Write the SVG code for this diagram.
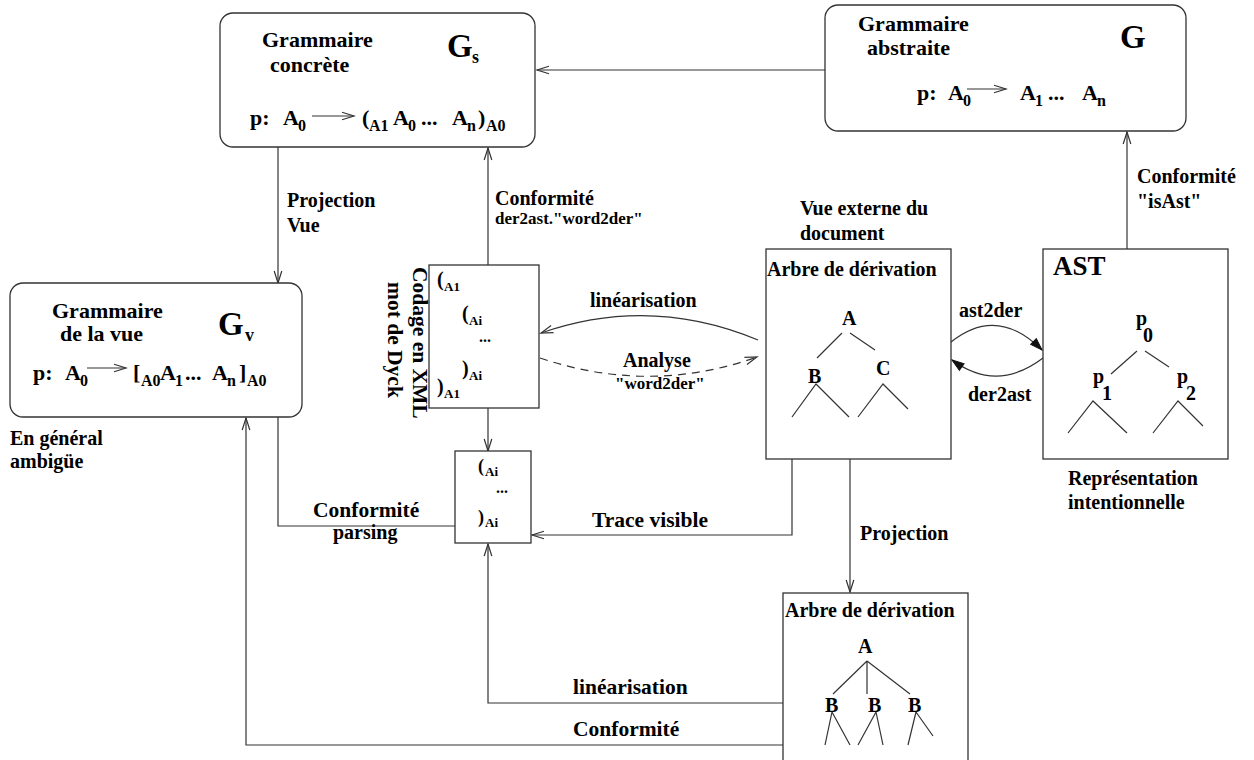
<svg xmlns="http://www.w3.org/2000/svg" width="1254" height="760" viewBox="0 0 1254 760">
  <style>
    text { font-family: "Liberation Serif", "Times New Roman", serif; font-weight: bold; fill: #000; }
    .lbl { font-size: 20px; }
    .lg { font-size: 21.5px; }
    .ttl { font-size: 22px; }
    .sm { font-size: 17px; }
    .big { font-size: 33px; }
    .bs { font-size: 18px; }
    .prod { font-size: 22px; }
    .sub { font-size: 16px; }
    .tree { font-size: 20px; }
    .xsub { font-size: 13px; }
    .box { fill: #fff; stroke: #333; stroke-width: 1.3; }
    .ln { fill: none; stroke: #333; stroke-width: 1.2; }
    .arr { marker-end: url(#open); }
    .fil { marker-end: url(#solid); }
    .dash { stroke-dasharray: 8 6; }
  </style>
  <defs>
    <marker id="open" markerUnits="userSpaceOnUse" markerWidth="16" markerHeight="12" viewBox="-14 -6 16 12" refX="0" refY="0" orient="auto">
      <path d="M-12,-3.8 L0,0 L-12,3.8" fill="none" stroke="#333" stroke-width="1.2"/>
    </marker>
    <marker id="solid" markerUnits="userSpaceOnUse" markerWidth="16" markerHeight="12" viewBox="-14 -6 16 12" refX="0" refY="0" orient="auto">
      <path d="M-12,-4 L0,0 L-12,4 Z" fill="#111" stroke="#111" stroke-width="1"/>
    </marker>
  </defs>

  <rect width="1254" height="760" fill="#fff"/>

  <!-- connectors -->
  <g id="connectors">
    <path class="ln arr" d="M825,70 H537"/>
    <path class="ln arr" d="M278,147 V283"/>
    <path class="ln arr" d="M488,265 V148"/>
    <path class="ln arr" d="M488,408 V451"/>
    <path class="ln arr" d="M758,340 Q650,295 541,333"/>
    <path class="ln arr dash" d="M540,358 Q650,395 757,357"/>
    <path class="ln fil" d="M951,342 Q997,305 1042,350"/>
    <path class="ln fil" d="M1043,358 Q997,393 952,360"/>
    <path class="ln arr" d="M1127,249 V132"/>
    <path class="ln arr" d="M792,459 V535 H532"/>
    <path class="ln arr" d="M850,459 V592"/>
    <path class="ln arr" d="M783,703 H488 V544"/>
    <path class="ln arr" d="M783,745 H246 V418"/>
    <path class="ln" d="M455,526 H278 V417"/>
  </g>

  <!-- concrete grammar -->
  <g id="gs">
    <rect class="box" x="220" y="13" width="315" height="134" rx="13"/>
    <text class="ttl" x="262" y="47">Grammaire</text>
    <text class="ttl" x="270" y="72">concrète</text>
    <text class="big" x="447" y="57">G</text>
    <text class="bs" x="472" y="63">s</text>
    <text class="prod" x="250" y="125">p:</text>
    <text class="prod" x="283" y="125">A</text><text class="sub" x="298" y="131">0</text>
    <path class="ln arr" d="M312,116 H354"/>
    <text class="prod" x="362" y="125">(</text><text class="sub" x="369" y="131">A1</text>
    <text class="prod" x="393" y="125">A</text><text class="sub" x="408" y="131">0</text>
    <text class="prod" x="421" y="125">...</text>
    <text class="prod" x="452" y="125">A</text><text class="sub" x="467" y="131">n</text>
    <text class="prod" x="478" y="125">)</text><text class="sub" x="486" y="131">A0</text>
  </g>

  <!-- abstract grammar -->
  <g id="g">
    <rect class="box" x="825" y="5" width="361" height="126" rx="13"/>
    <text class="ttl" x="858" y="31">Grammaire</text>
    <text class="ttl" x="867" y="55">abstraite</text>
    <text class="big" x="1120" y="48">G</text>
    <text class="prod" x="917" y="100">p:</text>
    <text class="prod" x="948" y="100">A</text><text class="sub" x="963" y="106">0</text>
    <path class="ln arr" d="M967,89 H1006"/>
    <text class="prod" x="1020" y="100">A</text><text class="sub" x="1035" y="106">1</text>
    <text class="prod" x="1048" y="100">...</text>
    <text class="prod" x="1082" y="100">A</text><text class="sub" x="1097" y="106">n</text>
  </g>

  <!-- view grammar -->
  <g id="gv">
    <rect class="box" x="10" y="283" width="292" height="134" rx="13"/>
    <text class="ttl" x="52" y="318">Grammaire</text>
    <text class="ttl" x="60" y="341">de la vue</text>
    <text class="big" x="218" y="335">G</text>
    <text class="bs" x="245" y="341">v</text>
    <text class="prod" x="33" y="380">p:</text>
    <text class="prod" x="65" y="380">A</text><text class="sub" x="80" y="386">0</text>
    <path class="ln arr" d="M87,368 H126"/>
    <text class="prod" x="133" y="380">[</text><text class="sub" x="141" y="386">A0</text>
    <text class="prod" x="160" y="380">A</text><text class="sub" x="175" y="386">1</text>
    <text class="prod" x="185" y="380">...</text>
    <text class="prod" x="212" y="380">A</text><text class="sub" x="227" y="386">n</text>
    <text class="prod" x="239" y="380">]</text><text class="sub" x="247" y="386">A0</text>
  </g>
  <text class="lbl" x="10" y="445">En général</text>
  <text class="lbl" x="10" y="468">ambigüe</text>

  <!-- XML / Dyck encoding -->
  <g id="xml">
    <rect class="box" x="429" y="265" width="110" height="143"/>
    <text class="prod" x="437" y="286" style="font-size:20px">(</text><text class="xsub" x="444" y="291">A1</text>
    <text class="prod" x="462" y="320" style="font-size:20px">(</text><text class="xsub" x="469" y="325">Ai</text>
    <text class="prod" x="479" y="342" style="font-size:16px">...</text>
    <text class="prod" x="462" y="375" style="font-size:20px">)</text><text class="xsub" x="469" y="380">Ai</text>
    <text class="prod" x="437" y="393" style="font-size:20px">)</text><text class="xsub" x="444" y="398">A1</text>
    <text class="lg" transform="translate(413,267) rotate(90)">Codage en XML</text>
    <text class="lg" transform="translate(388,282) rotate(90)">mot de Dyck</text>
  </g>

  <!-- visible trace -->
  <g id="trace">
    <rect class="box" x="455" y="451" width="76" height="92"/>
    <text class="prod" x="478" y="472" style="font-size:18px">(</text><text class="xsub" x="485" y="476">Ai</text>
    <text class="prod" x="496" y="493" style="font-size:16px">...</text>
    <text class="prod" x="478" y="523" style="font-size:18px">)</text><text class="xsub" x="485" y="527">Ai</text>
  </g>

  <!-- derivation tree (external view) -->
  <g id="derivation">
    <rect class="box" x="766" y="249" width="185" height="210"/>
    <text class="lbl" x="767" y="276">Arbre de dérivation</text>
    <text class="tree" x="842" y="325">A</text>
    <path class="ln" d="M817,358 L842,333 M850,333 L875,350"/>
    <text class="tree" x="808" y="383">B</text>
    <text class="tree" x="876" y="375">C</text>
    <path class="ln" d="M792,417 L816,384 L849,417 M858,417 L883,384 L908,409"/>
  </g>
  <text class="lbl" x="800" y="215">Vue externe du</text>
  <text class="lbl" x="800" y="240">document</text>

  <!-- abstract syntax tree -->
  <g id="ast">
    <rect class="box" x="1043" y="249" width="185" height="210"/>
    <text x="1053" y="275" style="font-size:27px">AST</text>
    <text class="tree" x="1136" y="325">p</text><text class="tree" x="1143" y="342">0</text>
    <path class="ln" d="M1137,351 L1111,374 M1145,351 L1169,367"/>
    <text class="tree" x="1093" y="383">p</text><text class="tree" x="1102" y="400">1</text>
    <text class="tree" x="1177" y="383">p</text><text class="tree" x="1186" y="400">2</text>
    <path class="ln" d="M1068,433 L1093,401 L1127,433 M1153,433 L1178,401 L1203,426"/>
  </g>
  <text class="lbl" x="1068" y="485">Représentation</text>
  <text class="lbl" x="1068" y="509">intentionnelle</text>

  <!-- projected derivation tree -->
  <g id="projected">
    <rect class="box" x="783" y="593" width="185" height="180"/>
    <text class="lbl" x="785" y="617">Arbre de dérivation</text>
    <text class="tree" x="858" y="653">A</text>
    <path class="ln" d="M867,661 L833,694 M867,661 L867,694 M867,661 L910,694"/>
    <text class="tree" x="825" y="712">B</text>
    <text class="tree" x="868" y="712">B</text>
    <text class="tree" x="908" y="712">B</text>
    <path class="ln" d="M832,712 L825,745 M832,712 L850,745 M876,712 L858,745 M876,712 L883,745 M916,712 L908,745 M916,712 L933,736"/>
  </g>

  <!-- connector labels -->
  <g id="labels">
    <text class="lbl" x="287" y="207">Projection</text>
    <text class="lbl" x="287" y="232">Vue</text>
    <text class="lbl" x="495" y="205">Conformité</text>
    <text class="sm" x="495" y="224">der2ast."word2der"</text>
    <text class="lbl" x="1137" y="183">Conformité</text>
    <text class="lbl" x="1137" y="208">"isAst"</text>
    <text class="lbl" x="590" y="307">linéarisation</text>
    <text class="lbl" x="623" y="367">Analyse</text>
    <text class="sm" x="615" y="389">"word2der"</text>
    <text class="lbl" x="959" y="317">ast2der</text>
    <text class="lbl" x="968" y="401">der2ast</text>
    <text class="lg" x="592" y="527">Trace visible</text>
    <text class="lbl" x="860" y="540">Projection</text>
    <text class="lg" x="313" y="517">Conformité</text>
    <text class="lbl" x="333" y="539">parsing</text>
    <text class="lg" x="573" y="694">linéarisation</text>
    <text class="lg" x="573" y="736">Conformité</text>
  </g>
</svg>
